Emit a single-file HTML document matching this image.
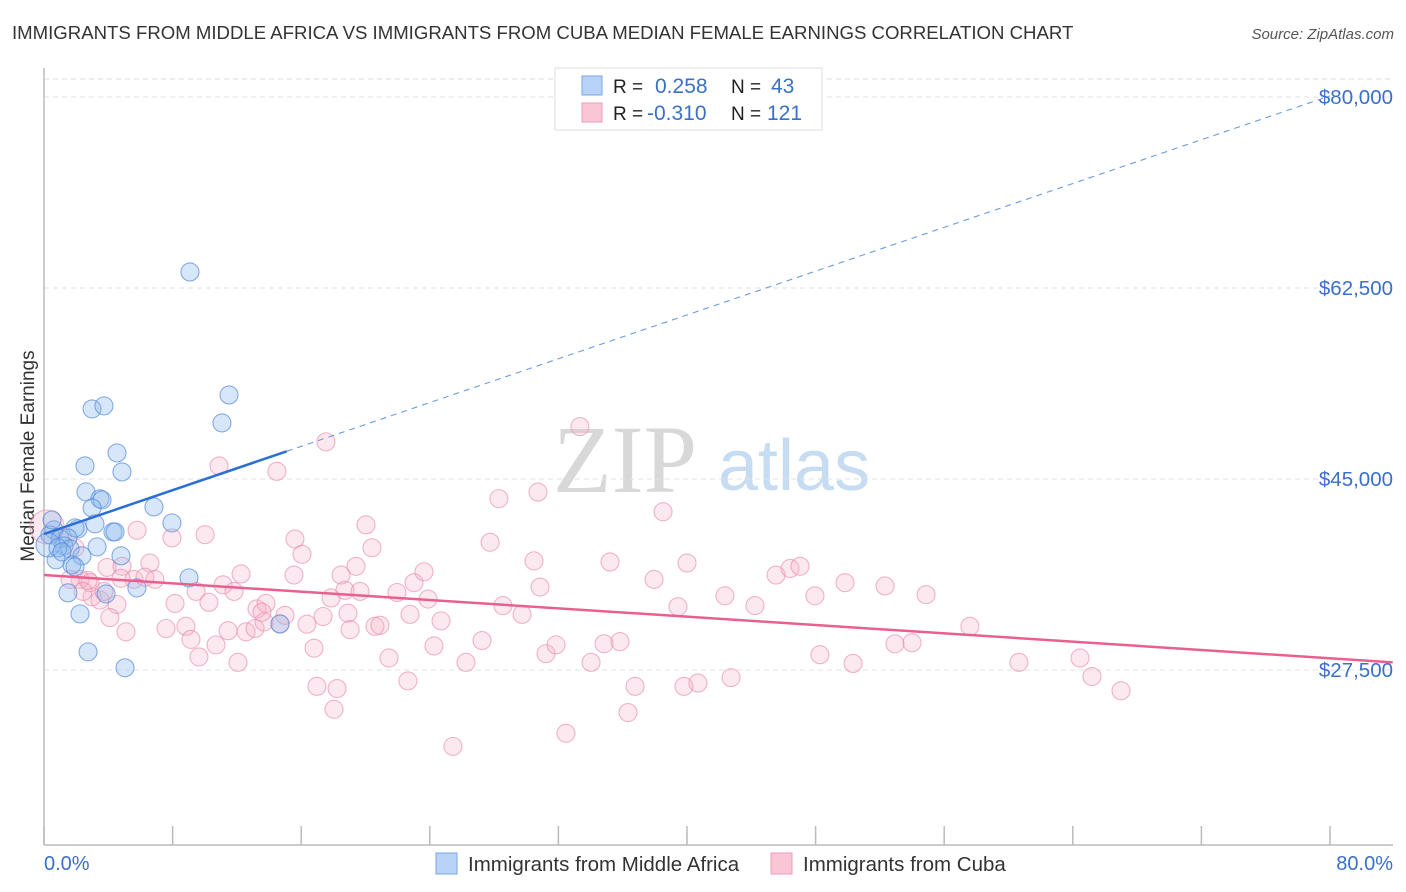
<!DOCTYPE html>
<html><head><meta charset="utf-8">
<style>
body{margin:0;background:#fff;font-family:"Liberation Sans",sans-serif;}
#wrap{position:relative;width:1406px;height:892px;overflow:hidden;}
</style></head>
<body>
<div id="wrap">
<svg id="svg" width="1406" height="892" xmlns="http://www.w3.org/2000/svg">
<text x="12" y="39" font-size="18.6" fill="#333">IMMIGRANTS FROM MIDDLE AFRICA VS IMMIGRANTS FROM CUBA MEDIAN FEMALE EARNINGS CORRELATION CHART</text>
<text x="1394" y="39" font-size="15" fill="#555" font-style="italic" text-anchor="end">Source: ZipAtlas.com</text>
<text x="34" y="456" font-size="19" fill="#333" text-anchor="middle" transform="rotate(-90 34 456)">Median Female Earnings</text>
<g>
<text x="553" y="492" font-size="96" fill="#d8d8d8" font-family="Liberation Serif, serif">ZIP</text>
<text x="718" y="490" font-size="72" fill="#c6dcf2">atlas</text>
</g>
<g id="grid"></g><g id="axes"></g><g id="marks"></g><g id="lines"></g>
<g>
<rect x="555" y="68" width="267" height="62" fill="#fff" stroke="#ddd"/>
<rect x="582" y="76" width="20" height="19" fill="#b8d3f5" stroke="#7aa7e2"/>
<rect x="582" y="103" width="20" height="19" fill="#fac6d6" stroke="#ee9bb6"/>
<text x="613" y="93" font-size="19" fill="#222">R = <tspan x="655" font-size="21" fill="#3a70c8">0.258</tspan><tspan x="731" fill="#222">N = </tspan><tspan x="771" font-size="21" fill="#3a70c8">43</tspan></text>
<text x="613" y="120" font-size="19" fill="#222">R = <tspan x="647" font-size="21" fill="#3a70c8">-0.310</tspan><tspan x="731" fill="#222">N = </tspan><tspan x="767" font-size="21" fill="#3a70c8">121</tspan></text>
</g>
<g>
<rect x="436" y="853" width="21" height="21" fill="#b8d3f5" stroke="#7aa7e2"/>
<text x="468" y="871" font-size="20.5" fill="#333">Immigrants from Middle Africa</text>
<rect x="771" y="853" width="21" height="21" fill="#fac6d6" stroke="#ee9bb6"/>
<text x="803" y="871" font-size="20.5" fill="#333">Immigrants from Cuba</text>
</g>
</svg>
</div>
<script>
const yTicks=[80000,62500,45000,27500];
const yTickLabels=["$80,000","$62,500","$45,000","$27,500"];
const xTicks=[0,8,16,24,32,40,48,56,64,72,80];
const xEndLabels=["0.0%","80.0%"];
const blueX=[9.08,11.51,11.07,2.99,3.73,4.54,2.55,4.85,2.61,3.48,3.61,2.99,6.84,7.96,3.17,2.11,1.93,4.29,4.42,0.62,0.37,1.0,1.49,1.24,3.3,1.62,4.79,2.36,0.75,1.74,1.93,9.02,3.86,5.78,1.49,2.24,14.68,2.74,5.04,0.25,0.87,0.5,1.12];
const blueY=[63.97,52.7,50.14,51.42,51.7,47.39,46.2,45.65,43.82,43.18,43.08,42.35,42.44,40.98,40.89,40.43,40.52,40.15,40.15,40.34,39.88,39.51,39.6,38.87,38.78,38.6,37.96,37.96,37.59,37.13,36.95,35.94,34.47,35.02,34.57,32.64,31.73,29.16,27.7,38.96,38.69,41.25,38.32];
const pinkX=[0.19,1.12,1.93,2.74,2.24,1.62,2.99,3.48,3.73,4.54,4.1,5.1,3.92,4.85,5.6,6.59,6.28,5.79,6.9,7.59,8.15,7.96,8.83,9.14,9.46,9.64,10.02,10.26,10.7,10.89,11.14,11.45,11.82,12.07,12.26,12.57,13.13,13.25,13.69,13.81,13.56,14.49,14.68,14.99,15.55,15.61,16.05,16.36,16.8,16.98,17.36,17.54,17.85,18.23,18.04,18.48,18.72,18.91,19.04,19.41,19.66,20.03,20.4,20.59,20.9,21.46,21.96,22.64,22.77,23.02,23.64,23.89,24.26,24.7,25.44,26.25,27.25,27.75,28.3,28.55,29.74,30.48,30.73,30.86,31.23,31.85,32.47,33.34,34.03,34.84,35.21,35.83,36.33,36.77,37.95,38.51,39.44,39.81,40.0,40.68,42.36,42.74,44.23,45.54,46.41,47.03,47.96,48.27,49.83,50.33,52.32,52.94,54.0,54.87,57.6,60.65,64.45,65.19,67.0,4.79,2.86,2.43];
const pinkY=[40.6,39.7,38.7,35.7,35.8,35.8,34.2,33.9,34.7,33.5,32.3,31.0,36.9,37.0,35.8,37.3,36.0,40.3,35.8,31.3,33.6,39.6,31.5,30.3,34.7,28.7,39.9,33.7,29.8,46.2,35.3,31.1,34.7,28.2,36.3,31.0,31.3,33.1,31.9,33.6,32.8,45.7,31.7,32.5,36.2,39.5,38.1,31.7,29.5,26.0,32.4,48.4,34.1,25.8,23.9,36.2,34.8,32.7,31.2,37.0,34.7,40.8,38.7,31.5,31.6,28.6,34.6,26.5,32.6,35.5,36.5,34.0,29.7,32.0,20.5,28.2,30.2,39.2,43.2,33.4,32.6,37.5,43.8,35.1,29.0,29.8,21.7,49.8,28.2,29.9,37.4,30.1,23.6,26.0,35.8,42.0,33.3,26.0,37.3,26.3,34.3,26.8,33.4,36.2,36.8,37.0,34.3,28.9,35.5,28.1,35.2,29.9,30.0,34.4,31.5,28.2,28.6,26.9,25.6,35.9,35.5,34.7];
const blueTrend=[39.96,80.1];
const pinkTrend=[36.2,28.57];
const NS="http://www.w3.org/2000/svg";
const X=p=>44+p*16.075;
const Y=v=>97+(80000-v)/1000*10.914;
function mk(tag,attrs,parent){const e=document.createElementNS(NS,tag);for(const k in attrs)e.setAttribute(k,attrs[k]);document.getElementById(parent).appendChild(e);return e;}
mk('line',{x1:44,x2:1393,y1:79,y2:79,stroke:'#ddd','stroke-dasharray':'5,4'},'grid');
yTicks.forEach((t,i)=>{
 const g=mk('line',{x1:44,x2:1393,y1:Y(t),y2:Y(t),stroke:'#e2e2e2','stroke-dasharray':'5,4'},'grid');
 
 
 const tx=mk('text',{x:1393,y:Y(t)+7,'font-size':20.5,fill:'#3a70c8','text-anchor':'end'},'axes');
 tx.textContent=yTickLabels[i];
 
 
});
const ya=mk('line',{x1:44,x2:44,y1:68,y2:845,stroke:'#bbb','stroke-width':1.5},'axes');


const xa=mk('line',{x1:44,x2:1393,y1:845,y2:845,stroke:'#bbb','stroke-width':1.5},'axes');


xTicks.forEach(t=>{
 const l=mk('line',{x1:X(t),x2:X(t),y1:826,y2:845,stroke:'#bbb','stroke-width':1.5},'axes');
 
 
});
const xl0=mk('text',{x:44,y:870,'font-size':20,fill:'#3a70c8'},'axes');xl0.textContent=xEndLabels[0];


const xl1=mk('text',{x:1393,y:870,'font-size':20,fill:'#3a70c8','text-anchor':'end'},'axes');xl1.textContent=xEndLabels[1];


pinkX.forEach((x,i)=>{
 const c=mk('circle',{cx:X(x),cy:Y(pinkY[i]*1000),r:i===0?17:9,fill:'rgba(246,175,198,0.28)',stroke:'rgba(234,140,172,0.65)','stroke-width':1.1},'marks');
 
 
});
blueX.forEach((x,i)=>{
 const c=mk('circle',{cx:X(x),cy:Y(blueY[i]*1000),r:i===39?12:9,fill:'rgba(140,185,238,0.35)',stroke:'rgba(85,140,220,0.7)','stroke-width':1.1},'marks');
 
 
});
const bAt=p=>blueTrend[0]+(blueTrend[1]-blueTrend[0])*p/80;
const pAt=p=>pinkTrend[0]+(pinkTrend[1]-pinkTrend[0])*p/80;
const b1=mk('line',{x1:X(0),y1:Y(bAt(0)*1000),x2:X(15.1),y2:Y(bAt(15.1)*1000),stroke:'#2a6fd6','stroke-width':2.5},'lines');


const b2=mk('line',{x1:X(15.1),y1:Y(bAt(15.1)*1000),x2:X(80),y2:Y(bAt(80)*1000),stroke:'#6b9be0','stroke-width':1.1,'stroke-dasharray':'6,5'},'lines');


const p1=mk('line',{x1:X(0),y1:Y(pAt(0)*1000),x2:X(83.9),y2:Y(pAt(83.9)*1000),stroke:'#e8608e','stroke-width':2.5},'lines');


</script>
</body></html>
